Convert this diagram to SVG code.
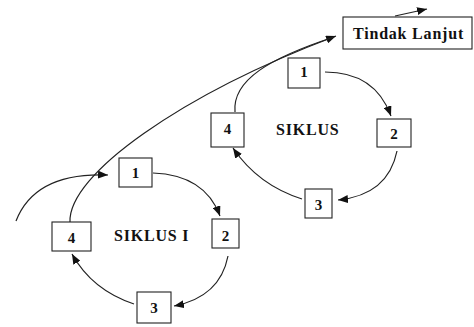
<svg xmlns="http://www.w3.org/2000/svg" width="474" height="327" viewBox="0 0 474 327">
<style>
.box{fill:#fff;stroke:#222;stroke-width:1.1}
.num{font-family:"Liberation Serif","Times New Roman",serif;font-weight:bold;font-size:15px;fill:#111;text-anchor:middle}
.lbl{font-family:"Liberation Serif","Times New Roman",serif;font-weight:bold;font-size:16px;fill:#111;letter-spacing:0.8px}
.con{fill:none;stroke:#222;stroke-width:1.2}
</style>
<defs>
<marker id="ah" viewBox="0 0 10 8" refX="10" refY="4" markerWidth="10" markerHeight="8" markerUnits="userSpaceOnUse" orient="auto">
<path d="M0,0 L10,4 L0,8 Z" fill="#111"/>
</marker>
</defs>
<rect width="474" height="327" fill="#fff"/>
<g id="connectors">
<path class="con" d="M16 221 Q35 172 108 175" marker-end="url(#ah)"/>
<path class="con" d="M153 173 Q205 175 220 216" marker-end="url(#ah)"/>
<path class="con" d="M228 256 Q220 297 174 306" marker-end="url(#ah)"/>
<path class="con" d="M134 304 Q92 290 72 254" marker-end="url(#ah)"/>
<path class="con" d="M70 222 C68 175 180 95 336 36" marker-end="url(#ah)"/>
<path class="con" d="M235 112 C232 80 270 58 334 37"/>
<path class="con" d="M325 72 Q375 72 391 116" marker-end="url(#ah)"/>
<path class="con" d="M397 151 Q388 195 338 200" marker-end="url(#ah)"/>
<path class="con" d="M302 199 Q258 185 233 148" marker-end="url(#ah)"/>
<path class="con" d="M395 16 L427 9" marker-end="url(#ah)"/>
</g>
<g id="tindak-lanjut">
<rect class="box" x="343" y="17" width="129" height="32"/>
<text class="lbl" x="353" y="39">Tindak Lanjut</text>
</g>
<g id="siklus1-label"><text class="lbl" x="114" y="241">SIKLUS I</text></g>
<g id="siklus2-label"><text class="lbl" x="276" y="135">SIKLUS</text></g>
<g id="s1-box1"><rect class="box" x="119" y="158" width="33" height="29"/><text class="num" x="135.5" y="178">1</text></g>
<g id="s1-box2"><rect class="box" x="212" y="219" width="27" height="29"/><text class="num" x="225.5" y="241">2</text></g>
<g id="s1-box3"><rect class="box" x="137" y="292" width="34" height="31"/><text class="num" x="154" y="313">3</text></g>
<g id="s1-box4"><rect class="box" x="52" y="222" width="39" height="29"/><text class="num" x="71.5" y="243">4</text></g>
<g id="s2-box1"><rect class="box" x="288" y="58" width="32" height="30"/><text class="num" x="304" y="77">1</text></g>
<g id="s2-box2"><rect class="box" x="377" y="119" width="34" height="28"/><text class="num" x="394" y="139">2</text></g>
<g id="s2-box3"><rect class="box" x="305" y="189" width="27" height="29"/><text class="num" x="318.5" y="210">3</text></g>
<g id="s2-box4"><rect class="box" x="211" y="113" width="33" height="34"/><text class="num" x="227.5" y="134">4</text></g>
</svg>
